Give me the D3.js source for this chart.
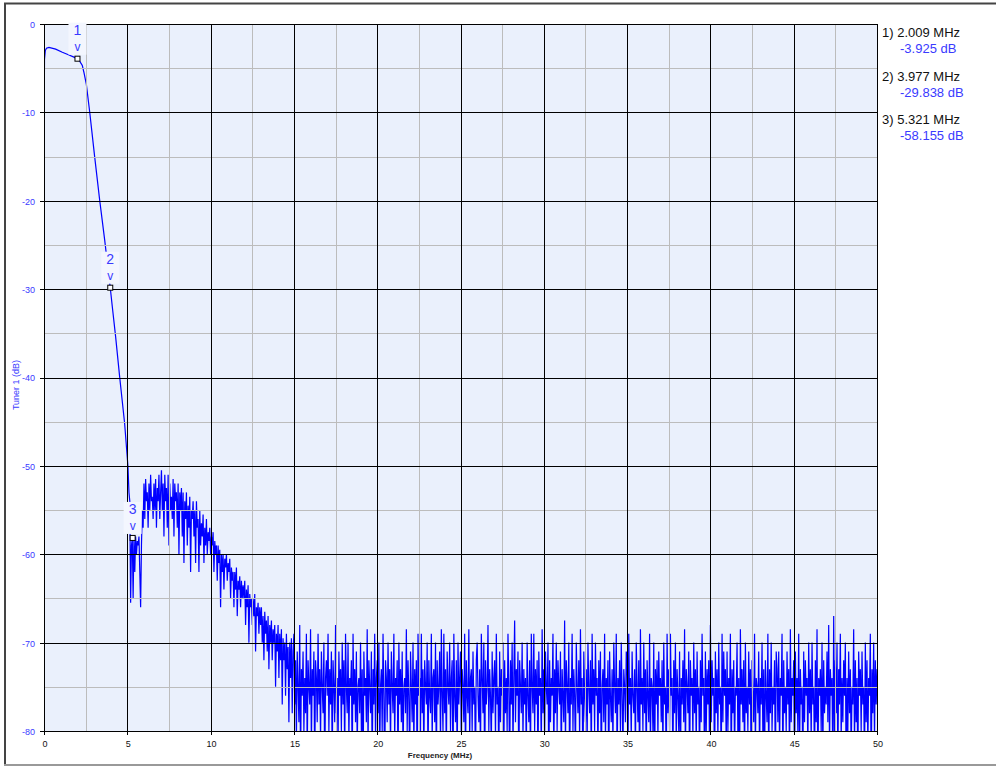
<!DOCTYPE html>
<html>
<head>
<meta charset="utf-8">
<script src="https://cdn.jsdelivr.net/npm/d3@7"></script>
<style>
  body { margin: 0; background: #fff; }
  svg { display: block; font-family: "Liberation Sans", Arial, sans-serif; }
</style>
</head>
<body>
<div id="chart"></div>
<script>
// smooth part of the trace (MHz / dB)
const smoothFreq = [0, 0.03, 0.08, 0.15, 0.3, 0.7, 1.1, 1.5, 1.8, 2.0, 2.14, 2.3, 2.4, 2.54, 2.74, 3.04, 3.34, 3.64, 3.98, 4.1, 4.3, 4.54, 4.84, 4.98, 5.04]
const smoothDb = [-13, -4.0, -3.0, -2.75, -2.65, -2.85, -3.2, -3.5, -3.75, -3.93, -4.2, -4.7, -5.5, -6.8, -9.9, -15.0, -19.9, -24.4, -29.9, -32.0, -35.4, -39.9, -45.2, -48.6, -50.1]

// noisy part, one value every 0.05 MHz from 5.1 MHz
const noiseStart = 5.1
const noiseStep = 0.05
const noiseDb = [
  -53, -54, -65.5, -59, -58.2, -65, -58, -62, -58, -60, -58.5, -59, -58, -62, -66, -59, -55, -57,
  // 6 MHz
  -52, -56, -51.5, -54, -53, -57, -52, -55, -51, -54, -53.5, -56, -52, -55, -51.5, -57, -52.5, -54, -51, -56,
  -53, -50.5, -55, -52, -58, -51, -54, -52.5, -57, -51, -59, -52, -55, -53.5, -56, -51.5, -58, -52, -54, -53,
  -57, -52, -60, -53, -55, -52.5, -58, -53, -61, -54, -56, -53, -59, -54.5, -57, -53.5, -62, -55, -56, -54,
  -58, -55, -61, -54, -57, -56, -62, -55, -59, -56.5, -58, -55.5, -61, -57, -59, -56, -60, -57.5, -58.5, -57,
  // 10 MHz
  -60, -58, -59, -57.5, -62, -58.5, -60, -59, -63, -59, -61, -59.5, -66, -60, -62, -60, -64, -60.5, -61.5, -60,
  -63, -61, -62, -60.5, -65, -61.5, -63, -62, -66, -62, -64, -61.5, -67, -63, -64, -62.5, -66, -63, -65, -63.5,
  -65, -63, -68, -64, -66, -63.5, -70, -64.5, -66, -65, -68, -65, -67, -64.5, -71, -66, -67, -65.5, -69, -66,
  -68, -66, -70, -67, -72, -66.5, -69, -67.5, -71, -67, -73, -68, -70, -67.5, -72, -68.5, -70, -68, -75, -69,
  -71, -68, -74, -69, -72, -68.5, -77, -69.5, -72, -70, -76, -69, -73, -70.5, -79, -70, -74, -69.5, -78, -71,
  // 15 MHz
  -69, -77, -72, -81, -71, -75, -79, -68, -84, -73, -76, -71, -80, -74, -78, -69, -83, -72, -75, -77,
  -68.5, -82, -73, -76, -71, -85, -72, -74, -79, -69, -77, -73, -81, -71, -75, -78, -70, -86, -74, -72,
  -76, -69, -80, -73, -77, -71, -84, -72, -75, -79, -68, -78, -74, -82, -71, -76, -73, -80, -70, -77,
  -72, -83, -69, -75, -78, -70, -81, -74, -76, -72, -85, -69, -77, -73, -79, -71, -82, -75, -74, -78,
  -70, -80, -73, -87, -71, -76, -74, -79, -68.5, -82, -72, -75, -78, -71, -84, -73, -77, -69, -81, -74,
  // 20 MHz
  -72, -78, -70, -83, -75, -73, -80, -69, -76, -86, -72, -74, -79, -70, -77, -73, -82, -71, -75, -78,
  -69, -81, -74, -76, -72, -85, -70, -77, -73, -79, -71, -83, -75, -74, -78, -68.5, -80, -72, -76, -84,
  -71, -75, -79, -70, -82, -73, -77, -72, -86, -69, -76, -74, -80, -69, -78, -73, -83, -72, -75, -77,
  -70, -84, -72, -76, -78, -69, -81, -74, -73, -79, -70, -85, -72, -77, -75, -71, -82, -68.5, -76, -80,
  -69, -78, -73, -83, -71, -75, -77, -70, -80, -74, -72, -86, -69, -76, -79, -72, -84, -70, -77, -74,
  // 25 MHz
  -71, -82, -73, -75, -79, -69, -84, -72, -76, -78, -68.5, -81, -74, -73, -80, -71, -77, -75, -85, -72,
  -70, -76, -79, -73, -83, -69, -74, -78, -70, -86, -72, -77, -75, -68, -80, -73, -76, -82, -71, -78,
  -74, -72, -81, -69, -77, -75, -84, -71, -79, -73, -76, -70, -83, -72, -78, -74, -80, -69, -75, -85,
  -72, -77, -70, -82, -74, -67.5, -79, -73, -76, -71, -86, -72, -75, -78, -70, -81, -73, -77, -74, -83,
  -70, -76, -79, -72, -84, -69, -75, -78, -69, -80, -73, -77, -72, -85, -71, -76, -74, -82, -68.5, -78,
  // 30 MHz
  -73, -81, -71, -75, -77, -70, -86, -72, -79, -74, -76, -69, -83, -73, -78, -70, -80, -72, -75, -77,
  -71, -84, -73, -76, -79, -67.5, -82, -72, -75, -78, -70, -85, -74, -77, -69, -80, -73, -76, -83, -70,
  -75, -78, -72, -81, -68.5, -77, -74, -86, -71, -76, -79, -73, -82, -70, -75, -78, -72, -84, -69, -77,
  -73, -80, -70, -76, -74, -83, -72, -78, -71, -85, -75, -73, -79, -69, -81, -74, -77, -72, -86, -71,
  -76, -79, -73, -82, -70, -75, -78, -69, -84, -74, -77, -72, -80, -70, -76, -83, -73, -75, -79, -71,
  // 35 MHz
  -72, -85, -69, -77, -74, -81, -71, -76, -78, -73, -83, -70, -75, -79, -72, -86, -68.5, -77, -74, -80,
  -70, -78, -73, -84, -72, -76, -79, -69, -82, -74, -75, -80, -70, -86, -73, -77, -72, -81, -71, -76,
  -74, -79, -72, -83, -70, -77, -75, -85, -69, -78, -73, -80, -69, -76, -74, -84, -72, -78, -70, -82,
  -73, -76, -80, -71, -85, -74, -77, -72, -79, -68.5, -83, -73, -75, -78, -71, -86, -72, -76, -74, -81,
  -70, -78, -73, -82, -71, -77, -75, -84, -72, -79, -69, -76, -74, -85, -71, -80, -73, -77, -72, -83,
  // 40 MHz
  -68, -79, -72, -76, -74, -86, -71, -78, -73, -81, -70, -77, -75, -84, -69, -79, -71, -76, -73, -82,
  -71, -80, -74, -77, -69, -85, -73, -78, -72, -83, -75, -76, -70, -81, -74, -86, -68.5, -77, -73, -79,
  -72, -84, -70, -78, -75, -80, -71, -77, -73, -86, -72, -76, -79, -69, -82, -74, -75, -78, -71, -83,
  -74, -77, -70, -81, -73, -85, -72, -76, -79, -69, -84, -73, -78, -70, -80, -75, -77, -72, -86, -71,
  -73, -79, -71, -82, -74, -76, -69, -85, -72, -78, -75, -80, -71, -77, -73, -84, -68.5, -79, -74, -76,
  // 45 MHz
  -72, -86, -71, -78, -74, -80, -69, -83, -73, -77, -75, -85, -71, -79, -72, -76, -74, -82, -70, -78,
  -73, -81, -70, -77, -75, -84, -72, -79, -68.5, -86, -74, -76, -73, -80, -70, -83, -72, -78, -75, -77,
  -71, -79, -68, -82, -73, -76, -74, -85, -67, -80, -72, -78, -70, -84, -73, -77, -69, -81, -74, -79,
  -72, -76, -70, -86, -74, -80, -71, -78, -73, -83, -75, -77, -68.5, -82, -72, -79, -74, -85, -71, -76,
  -73, -80, -71, -77, -75, -84, -70, -79, -72, -82, -74, -76, -69, -86, -73, -78, -70, -81, -72, -77,
  -73
]

const markerFreq = [2.009, 3.977, 5.321]
const markerDb = [-3.925, -29.838, -58.155]

const xTicks = [0, 5, 10, 15, 20, 25, 30, 35, 40, 45, 50]
const xMinor = [2.5, 7.5, 12.5, 17.5, 22.5, 27.5, 32.5, 37.5, 42.5, 47.5]
const yTicks = [0, -10, -20, -30, -40, -50, -60, -70, -80]
const yMinor = [-5, -15, -25, -35, -45, -55, -65, -75]

const W = 996, H = 766
const blue = '#0000ff'
const labelBlue = '#3a3aff'

const x = d3.scaleLinear().domain([0, 50]).range([44, 877])
const y = d3.scaleLinear().domain([0, -80]).range([24, 731])
const px = v => Math.round(x(v)) + 0.5
const py = v => Math.round(y(v)) + 0.5

// build the trace from the arrays
const trace = smoothFreq.map((f, i) => [f, smoothDb[i]])
noiseDb.forEach((v, i) => trace.push([+(noiseStart + i * noiseStep).toFixed(3), v]))

const svg = d3.select('#chart').append('svg')
    .attr('width', W)
    .attr('height', H)

// outer frame
svg.append('line').attr('x1', 4).attr('x2', W).attr('y1', 3.5).attr('y2', 3.5)
    .attr('stroke', '#444').attr('stroke-width', 2)
svg.append('line').attr('x1', 5).attr('x2', 5).attr('y1', 3).attr('y2', H)
    .attr('stroke', '#444').attr('stroke-width', 2)
svg.append('line').attr('x1', 4).attr('x2', W).attr('y1', 765).attr('y2', 765)
    .attr('stroke', '#999').attr('stroke-width', 2)

// plot background
svg.append('rect')
    .attr('x', x(0)).attr('y', y(0))
    .attr('width', x(50) - x(0)).attr('height', y(-80) - y(0))
    .attr('fill', '#eaf0fc')

svg.append('clipPath').attr('id', 'plotclip')
  .append('rect')
    .attr('x', x(0)).attr('y', y(0))
    .attr('width', x(50) - x(0)).attr('height', y(-80) - y(0) + 1)

// trace
svg.append('path')
    .datum(trace)
    .attr('clip-path', 'url(#plotclip)')
    .attr('fill', 'none')
    .attr('stroke', blue)
    .attr('stroke-width', 1.2)
    .attr('d', d3.line().x(d => x(d[0])).y(d => y(d[1])))

// grid on top of the trace
const grid = svg.append('g')
grid.selectAll('.vminor').data(xMinor).join('line')
    .attr('x1', px).attr('x2', px).attr('y1', y(0)).attr('y2', y(-80))
    .attr('stroke', '#bcbcbc')
grid.selectAll('.hminor').data(yMinor).join('line')
    .attr('x1', x(0)).attr('x2', x(50)).attr('y1', py).attr('y2', py)
    .attr('stroke', '#bcbcbc')
grid.selectAll('.vmajor').data(xTicks).join('line')
    .attr('x1', px).attr('x2', px).attr('y1', y(0)).attr('y2', y(-80) + 4)
    .attr('stroke', '#000')
grid.selectAll('.hmajor').data(yTicks).join('line')
    .attr('x1', x(0) - 4).attr('x2', x(50)).attr('y1', py).attr('y2', py)
    .attr('stroke', '#000')

// axis labels
const yAxis = d3.axisLeft(y).tickValues(yTicks).tickFormat(d => String(d)).tickSize(0).tickPadding(9)
svg.append('g')
    .attr('transform', `translate(${x(0)},0.5)`)
    .call(yAxis)
    .call(g => g.select('.domain').remove())
    .call(g => g.selectAll('text').attr('fill', labelBlue).attr('font-size', 9)
        .attr('font-family', '"Liberation Sans", Arial, sans-serif'))

const xAxis = d3.axisBottom(x).tickValues(xTicks).tickSize(0).tickPadding(10)
svg.append('g')
    .attr('transform', `translate(0.5,${y(-80)})`)
    .call(xAxis)
    .call(g => g.select('.domain').remove())
    .call(g => g.selectAll('text').attr('fill', '#111').attr('font-size', 9)
        .attr('font-family', '"Liberation Sans", Arial, sans-serif'))

svg.append('text')
    .attr('x', 440).attr('y', 758)
    .attr('text-anchor', 'middle')
    .attr('font-size', 8).attr('font-weight', 'bold').attr('fill', '#222')
    .text('Frequency (MHz)')

svg.append('text')
    .attr('transform', 'translate(19,385) rotate(-90)')
    .attr('text-anchor', 'middle')
    .attr('font-size', 9).attr('fill', labelBlue)
    .text('Tuner 1 (dB)')

// markers
const markers = markerFreq.map((f, i) => ({ n: i + 1, f, db: markerDb[i] }))
const mk = svg.append('g').selectAll('g').data(markers).join('g')
    .attr('transform', d => `translate(${x(d.f)},${y(d.db)})`)
mk.append('rect')
    .attr('x', -9).attr('y', -36).attr('width', 18).attr('height', 32)
    .attr('fill', '#f3f6fe')
mk.append('text')
    .attr('y', -24).attr('text-anchor', 'middle')
    .attr('font-size', 14).attr('fill', labelBlue)
    .text(d => d.n)
mk.append('text')
    .attr('y', -8).attr('text-anchor', 'middle')
    .attr('font-size', 12).attr('fill', labelBlue)
    .text('v')
mk.append('rect')
    .attr('x', -2.5).attr('y', -2.5).attr('width', 5).attr('height', 5)
    .attr('fill', '#fff').attr('stroke', '#000').attr('stroke-width', 1)

// marker readout on the right
const legend = svg.append('g').selectAll('g').data(markers).join('g')
    .attr('transform', (d, i) => `translate(882,${37 + i * 43.5})`)
legend.append('text')
    .attr('font-size', 13).attr('fill', '#111')
    .text(d => `${d.n}) ${d.f.toFixed(3)} MHz`)
legend.append('text')
    .attr('x', 18).attr('y', 16)
    .attr('font-size', 13).attr('fill', labelBlue)
    .text(d => `${d.db.toFixed(3)} dB`)
</script>
</body>
</html>
